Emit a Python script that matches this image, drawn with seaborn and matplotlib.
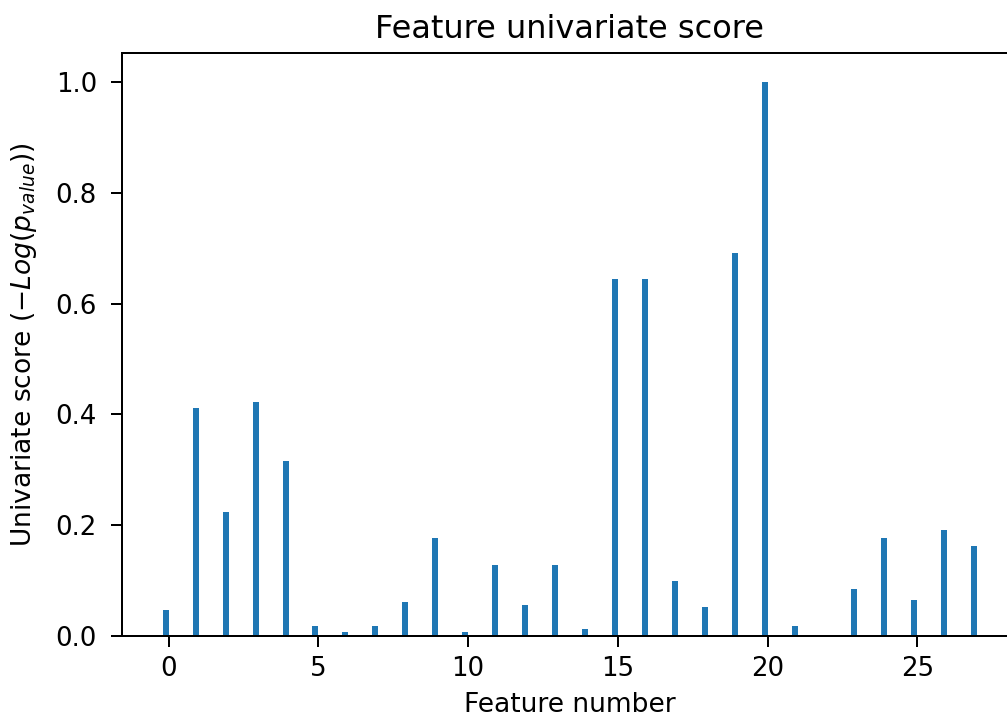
import numpy as np
import pandas as pd
import matplotlib
matplotlib.use("Agg")
import matplotlib.pyplot as plt
import seaborn as sns

features = list(range(28))
scores = [0.046, 0.412, 0.224, 0.422, 0.316, 0.017, 0.007, 0.017, 0.060, 0.176,
          0.007, 0.128, 0.055, 0.128, 0.012, 0.644, 0.644, 0.099, 0.051, 0.692,
          1.000, 0.017, 0.000, 0.084, 0.176, 0.065, 0.190, 0.162]
bar_offset = 0.1
xtick_vals = [0, 5, 10, 15, 20, 25]
ytick_vals = [0.0, 0.2, 0.4, 0.6, 0.8, 1.0]

df = pd.DataFrame({"x": np.array(features) - bar_offset, "score": scores})

fig = plt.figure(figsize=(1008 / 180, 716 / 180), dpi=180)
ax = fig.add_axes([122 / 1008, 0.1122, 896 / 1008, 0.8134])
sns.barplot(data=df, x="x", y="score", native_scale=True, width=0.2,
            color="#1f77b4", saturation=1, ax=ax, errorbar=None)
ax.set_xlim(-1.56, 28.36)
ax.set_ylim(0, 1.052)
ax.set_xticks(xtick_vals)
ax.set_xticklabels([str(v) for v in xtick_vals])
ax.set_yticks(ytick_vals)
ax.set_yticklabels([f"{v:.1f}" for v in ytick_vals])
ax.tick_params(axis="both", labelsize=10.4, length=4.5)
ax.tick_params(axis="y", pad=5.5)
ax.tick_params(axis="x", pad=3.5)
ax.set_title("Feature univariate score", fontsize=12.8)
ax.set_xlabel("Feature number", fontsize=10.6)
ax.set_ylabel(r"Univariate score ($-Log(p_{value})$)", fontsize=10.6, labelpad=6.5)
fig.savefig("out.png", dpi=180)
